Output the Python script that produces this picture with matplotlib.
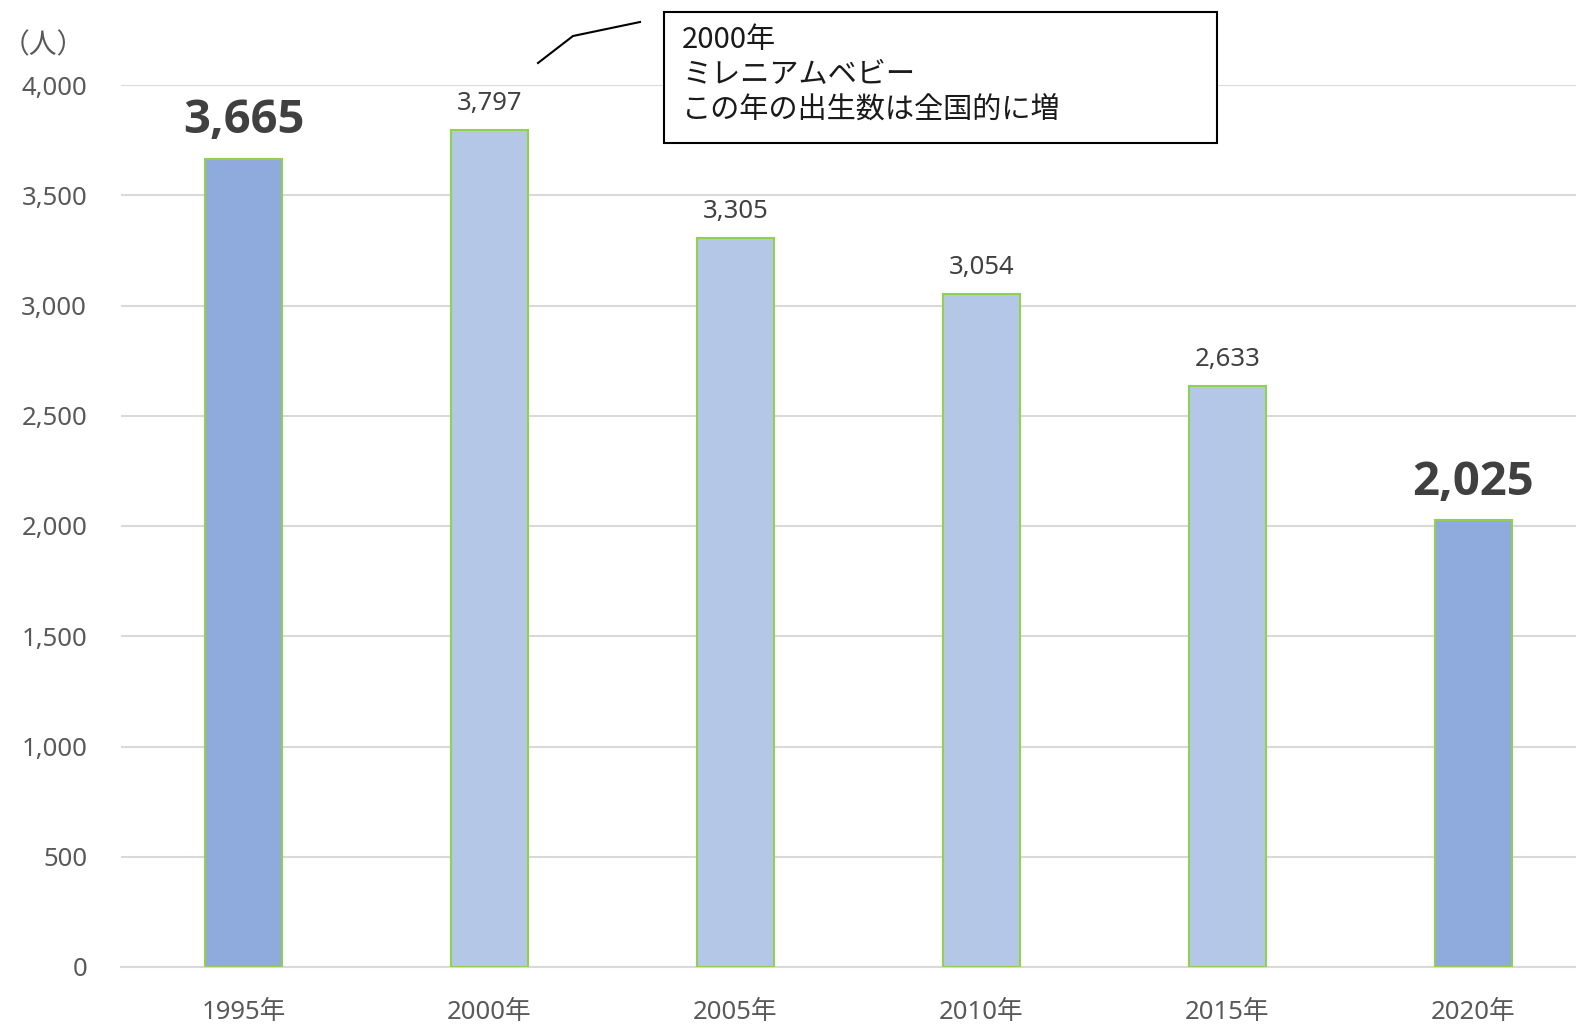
import matplotlib
matplotlib.use("Agg")
import matplotlib.pyplot as plt
from matplotlib.patches import Rectangle
from matplotlib.lines import Line2D

FONTS = ['Noto Sans', 'Noto Sans CJK JP', 'DejaVu Sans']
plt.rcParams['font.family'] = FONTS

years = ["1995年", "2000年", "2005年", "2010年", "2015年", "2020年"]
births = [3665, 3797, 3305, 3054, 2633, 2025]
highlight = [True, False, False, False, False, True]
yticks = [0, 500, 1000, 1500, 2000, 2500, 3000, 3500, 4000]
unit_label = "（人）"
note_lines = ["2000年", "ミレニアムベビー", "この年の出生数は全国的に増"]

W, H = 1576, 1024
fig = plt.figure(figsize=(W / 100, H / 100), dpi=100)
ax_left, ax_right, ax_top, ax_bottom = 120.5, 1596.5, 85, 967
ax = fig.add_axes([ax_left / W, 1 - ax_bottom / H, (ax_right - ax_left) / W, (ax_bottom - ax_top) / H])

x = list(range(len(years)))
colors = ["#8FAADC" if h else "#B4C7E7" for h in highlight]
ax.bar(x, births, width=0.315, color=colors, edgecolor="#92D050", linewidth=1.5, zorder=3)

ax.set_xlim(-0.5, len(years) - 0.5)
ax.set_ylim(0, 4000)
ax.set_yticks(yticks)
ax.set_yticklabels([f"{v:,}" for v in yticks])
ax.set_xticks(x)
ax.set_xticklabels(years)
ax.tick_params(axis='both', length=0, labelsize=18.5, labelcolor="#595959")
ax.tick_params(axis='y', pad=24)
ax.tick_params(axis='x', pad=24)
ax.grid(axis='y', color="#D9D9D9", linewidth=1.5, zorder=0)
for s in ["top", "right", "left"]:
    ax.spines[s].set_visible(False)
ax.spines["bottom"].set_color("#D9D9D9")
ax.spines["bottom"].set_linewidth(1.5)

for xi, v, h in zip(x, births, highlight):
    if h:
        ax.annotate(f"{v:,}", (xi, v), xytext=(0, 18.5), textcoords="offset points",
                    ha="center", va="baseline", fontsize=34, fontweight="bold", color="#404040",
                    family=['Open Sans', 'DejaVu Sans'])
    else:
        ax.annotate(f"{v:,}", (xi, v), xytext=(0, 14.4), textcoords="offset points",
                    ha="center", va="baseline", fontsize=18.5, color="#404040")

fig.text(43 / W, 1 - 45 / H, unit_label, fontsize=20, color="#595959", va="center", ha="center",
         family=['Noto Sans CJK JP', 'DejaVu Sans'])

# annotation box
fig.patches.append(Rectangle((664 / W, 1 - 143 / H), (1217 - 664) / W, (143 - 12) / H,
                             transform=fig.transFigure, facecolor="white", edgecolor="#000000",
                             linewidth=1.5, zorder=5))
for i, line in enumerate(note_lines):
    fig.text(682 / W, 1 - (40 + 35 * i) / H, line, fontsize=21, color="#1a1a1a",
             va="center", ha="left", zorder=6, family=['Noto Sans CJK JP', 'DejaVu Sans'])
fig.lines.append(Line2D([538 / W, 573 / W, 640 / W], [1 - 63 / H, 1 - 36 / H, 1 - 22 / H],
                        transform=fig.transFigure, color="#000000", linewidth=1.5))

fig.savefig("out.png", dpi=100, facecolor="white")
